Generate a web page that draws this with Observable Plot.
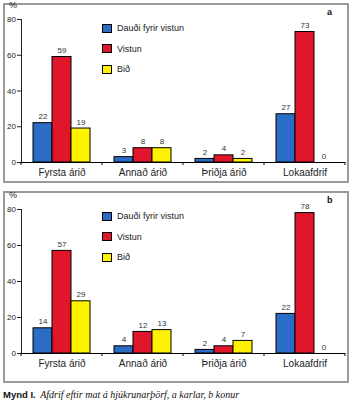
<!DOCTYPE html>
<html>
<head>
<meta charset="utf-8">
<script src="https://cdn.jsdelivr.net/npm/d3@7"></script>
<script src="https://cdn.jsdelivr.net/npm/@observablehq/plot@0.6"></script>
<style>
  html, body { margin: 0; padding: 0; background: #fff; }
  #wrap { position: relative; width: 353px; height: 400px; font-family: "Liberation Sans", Arial, sans-serif; }
  .panel { position: absolute; box-sizing: border-box; border: 2px solid #9a9a9a; }
  .panel svg { display: block; }
  .pct { position: absolute; font-size: 9px; color: #222; }
  .tag { position: absolute; font-size: 9px; font-weight: bold; color: #111; }
  .legend { position: absolute; font-size: 9px; color: #222; }
  .legend .row { display: flex; align-items: center; height: 10px; margin-bottom: 10.5px; }
  .legend .sw { width: 8px; height: 7px; border: 1px solid #000; margin-right: 5px; }
  .caption { position: absolute; left: 3px; top: 387px; height: 12px; line-height: 12px; white-space: nowrap; color: #111; }
  .caption b { font-family: "Liberation Sans", Arial, sans-serif; font-size: 9.5px; }
  .caption i { font-family: "Liberation Serif", "Times New Roman", serif; font-size: 10px; }
</style>
</head>
<body>
<div id="wrap"></div>
<script>
const groups = ["Fyrsta árið", "Annað árið", "Þriðja árið", "Lokaafdrif"];
const series = ["Dauði fyrir vistun", "Vistun", "Bið"];
const colors = ["#2b6cc4", "#e0162b", "#fff200"];
const yTicks = [0, 20, 40, 60, 80];

// panel a (karlar): values per series across groups
const aDeath = [22, 3, 2, 27];
const aVistun = [59, 8, 4, 73];
const aBid = [19, 8, 2, 0];
// panel b (konur)
const bDeath = [14, 4, 2, 22];
const bVistun = [57, 12, 4, 78];
const bBid = [29, 13, 7, 0];

function table(d, v, b) {
  const rows = [];
  groups.forEach((g, i) => {
    rows.push({group: g, series: series[0], value: d[i]});
    rows.push({group: g, series: series[1], value: v[i]});
    rows.push({group: g, series: series[2], value: b[i]});
  });
  return rows;
}

const wrap = document.getElementById("wrap");

function panel(rows, box, m, tag) {
  const div = document.createElement("div");
  div.className = "panel";
  Object.assign(div.style, {left: box.left + "px", top: box.top + "px", width: box.w + "px", height: box.h + "px"});
  const W = box.w - 4, H = box.h - 4;
  const chart = Plot.plot({
    width: W, height: H,
    marginLeft: 15, marginRight: 2, marginTop: m.top, marginBottom: m.bottom,
    style: {fontFamily: "Liberation Sans, Arial, sans-serif", fontSize: "8px", color: "#222", background: "transparent"},
    fx: {domain: groups, padding: 0, label: null, axis: null},
    x: {domain: series, paddingInner: 0, paddingOuter: 0.53, axis: null},
    y: {domain: [0, 80], ticks: yTicks, tickSize: 4, tickPadding: 1.5, label: null, line: true},
    color: {domain: series, range: colors},
    marks: [
      Plot.barY(rows, {fx: "group", x: "series", y: "value", fill: "series", stroke: "#000", strokeWidth: 1}),
      Plot.text(rows, {fx: "group", x: "series", y: "value", text: d => String(d.value), dy: -6.5, fill: "#333", fontSize: 8}),
      Plot.ruleY([0], {stroke: "#000", strokeWidth: 1}),
      Plot.axisFx({anchor: "bottom", tickSize: 0, tickPadding: 6, fontSize: 10, label: null})
    ]
  });
  // group boundary ticks on the x axis, from the fx scale
  const fx = chart.scale("fx"), y = chart.scale("y");
  const edges = groups.map(g => fx.apply(g)).concat([fx.apply(groups[groups.length - 1]) + fx.bandwidth]);
  const y0 = y.apply(0);
  d3.select(chart).append("g").selectAll("line").data(edges).join("line")
    .attr("x1", d => d).attr("x2", d => d).attr("y1", y0).attr("y2", y0 + 3)
    .attr("stroke", "#000").attr("stroke-width", 1);
  div.appendChild(chart);
  wrap.appendChild(div);

  const pct = document.createElement("div");
  pct.className = "pct"; pct.textContent = "%";
  Object.assign(pct.style, {left: (box.left + 6) + "px", top: (box.top + m.top - 17) + "px"});
  wrap.appendChild(pct);

  const t = document.createElement("div");
  t.className = "tag"; t.textContent = tag;
  Object.assign(t.style, {left: (box.left + 324) + "px", top: (box.top + 4) + "px"});
  wrap.appendChild(t);

  const lg = document.createElement("div");
  lg.className = "legend";
  Object.assign(lg.style, {left: (box.left + 99) + "px", top: (box.top + 20) + "px"});
  series.forEach((s, i) => {
    const r = document.createElement("div"); r.className = "row";
    const sw = document.createElement("div"); sw.className = "sw"; sw.style.background = colors[i];
    const tx = document.createElement("span"); tx.textContent = s;
    r.appendChild(sw); r.appendChild(tx); lg.appendChild(r);
  });
  wrap.appendChild(lg);
}

panel(table(aDeath, aVistun, aBid), {left: 3, top: 3, w: 346, h: 180}, {top: 14, bottom: 19}, "a");
panel(table(bDeath, bVistun, bBid), {left: 3, top: 191, w: 346, h: 192}, {top: 16, bottom: 28}, "b");

const cap = document.createElement("div");
cap.className = "caption";
cap.innerHTML = "<b>Mynd I.</b> <i>Afdrif eftir mat á hjúkrunarþörf, a karlar, b konur</i>";
wrap.appendChild(cap);
</script>
</body>
</html>
